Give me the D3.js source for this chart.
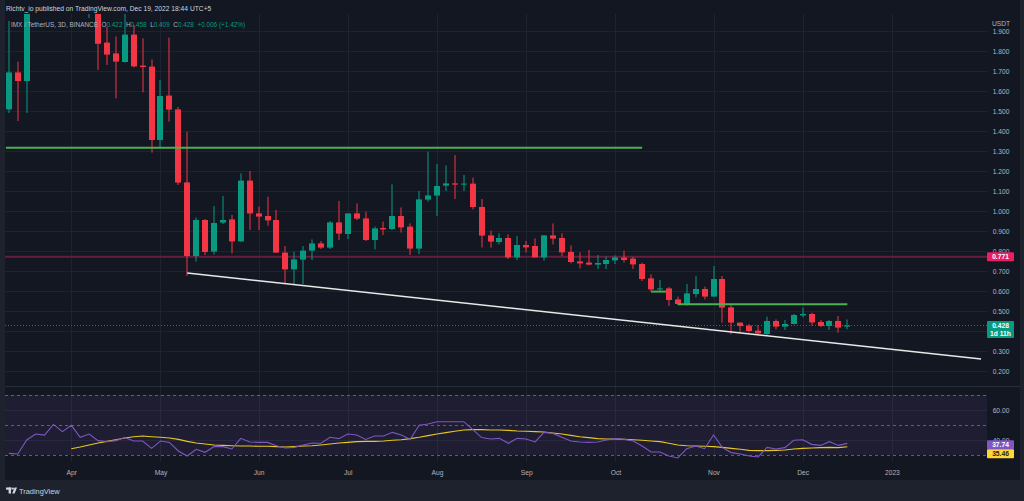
<!DOCTYPE html>
<html><head><meta charset="utf-8">
<script src="https://cdn.jsdelivr.net/npm/d3@7"></script>
<style>
html,body{margin:0;padding:0;background:#1e222d;}
svg{display:block;}
text{font-family:"Liberation Sans",Arial,sans-serif;}
</style>
</head><body>
<svg id="c" width="1024" height="501"></svg>
<script>
// ---- data (IMX/USDT, 3D candles, Binance) ----
const firstCandleDate = "2022-03-11";
const candleStepDays = 3;
const opens  = [1.508,1.693,1.650,2.05,2.20,2.42,2.35,2.18,2.10,2.06,
                2.12,1.842,1.788,1.745,1.882,1.727,1.722,1.355,1.577,1.508,
                1.143,0.775,0.955,0.797,0.942,0.958,0.848,1.152,0.988,0.975,
                0.955,0.792,0.708,0.757,0.802,0.838,0.817,0.943,0.885,0.988,
                0.963,0.855,0.915,0.910,0.975,0.922,0.812,1.057,1.077,1.127,
                1.138,1.135,1.137,1.020,0.878,0.845,0.865,0.768,0.830,0.825,
                0.768,0.878,0.865,0.795,0.748,0.742,0.732,0.735,0.753,0.767,
                0.762,0.735,0.663,0.608,0.613,0.558,0.535,0.585,0.610,0.572,
                0.660,0.518,0.442,0.427,0.402,0.385,0.450,0.422,0.435,0.478,
                0.485,0.445,0.425,0.450,0.422];
const highs  = [1.95,1.747,2.10,2.30,2.50,2.60,2.45,2.30,2.25,2.20,
                2.15,1.92,1.873,1.99,1.93,1.863,1.758,1.655,1.867,1.52,
                1.397,0.967,0.96,1.025,1.075,0.98,1.188,1.20,1.022,1.072,
                1.005,0.825,0.797,0.825,0.858,0.85,0.95,1.05,0.988,1.038,
                0.997,0.922,0.947,1.133,1.018,0.938,1.10,1.297,1.235,1.228,
                1.28,1.18,1.167,1.06,0.902,0.888,0.883,0.875,0.85,0.863,
                0.88,0.938,0.888,0.828,0.793,0.805,0.78,0.772,0.778,0.802,
                0.77,0.742,0.683,0.655,0.62,0.572,0.635,0.675,0.622,0.725,
                0.675,0.53,0.442,0.435,0.43,0.472,0.458,0.455,0.485,0.517,
                0.492,0.455,0.455,0.475,0.458];
const lows   = [1.49,1.45,1.49,2.00,2.10,2.25,2.10,2.02,2.00,1.965,
                1.705,1.73,1.563,1.742,1.718,1.593,1.292,1.313,1.447,1.13,
                0.675,0.747,0.78,0.782,0.935,0.788,0.845,0.905,0.905,0.927,
                0.79,0.635,0.635,0.635,0.755,0.81,0.81,0.855,0.86,0.955,
                0.85,0.808,0.88,0.905,0.892,0.78,0.785,1.047,0.975,1.10,
                1.06,1.10,1.008,0.818,0.817,0.833,0.76,0.755,0.792,0.768,
                0.752,0.833,0.775,0.738,0.713,0.728,0.71,0.71,0.735,0.742,
                0.71,0.65,0.597,0.597,0.525,0.53,0.527,0.568,0.558,0.572,
                0.442,0.383,0.39,0.392,0.385,0.38,0.408,0.405,0.433,0.468,
                0.427,0.42,0.405,0.392,0.409];
const closes = [1.693,1.650,2.05,2.20,2.42,2.35,2.18,2.10,2.06,2.12,
                1.836,1.782,1.747,1.882,1.723,1.720,1.355,1.575,1.507,1.142,
                0.775,0.955,0.795,0.940,0.955,0.848,1.152,0.988,0.972,0.953,
                0.792,0.708,0.758,0.802,0.838,0.817,0.943,0.887,0.988,0.962,
                0.855,0.913,0.908,0.975,0.918,0.812,1.058,1.078,1.125,1.138,
                1.132,1.137,1.020,0.877,0.847,0.865,0.768,0.830,0.818,0.768,
                0.878,0.862,0.793,0.745,0.738,0.732,0.740,0.755,0.768,0.755,
                0.733,0.660,0.608,0.613,0.555,0.535,0.588,0.610,0.572,0.660,
                0.517,0.442,0.425,0.400,0.388,0.450,0.422,0.435,0.480,0.485,
                0.443,0.425,0.450,0.417,0.428];
const rsiValues = [31.1,30.7,40,44,43.3,50.4,45.6,49.8,41.8,44,
                   39.6,38.9,39.6,41.6,39.3,39.3,34.4,39.3,38.4,32.7,
                   29.3,33.8,31.8,35.6,35.6,34,41.1,38.7,38.4,38.4,
                   36.2,34.7,35.1,36.7,38,37.8,41.8,40.9,44,43.3,
                   40.4,42.7,42.7,45.1,43.3,40.4,49.8,50.7,52.2,52.2,
                   52.2,52.2,47.1,41.6,40.7,41.1,37.8,41.1,40.7,38.7,
                   45.1,44.4,41.8,39.3,38.7,38.4,38.7,40,40.9,40.4,
                   39.3,36,32,32,29.3,28,34.2,36,34.2,43.3,
                   34.9,31.6,30.7,29.3,28.7,35.1,34,34.9,39.8,40.2,
                   37.1,36.4,38.9,36.4,37.74];
const rsiMA = [null,null,null,null,null,null,null,34.2,35.3,36.7,
               38,39.1,40.2,41.3,42.2,42.7,42.2,41.8,41.3,40.4,
               39.1,38,37.3,36.7,36.4,36.2,36,36,35.8,35.8,
               35.6,35.3,35.6,36,36.2,36.7,37.3,38,38.4,38.9,
               39.1,39.1,39.3,39.8,40.2,40.9,41.8,42.9,44,44.9,
               45.8,46.7,46.9,46.9,46.7,46.7,46.4,46,45.8,45.6,
               45.3,44.7,44,43.1,42.2,41.6,40.9,40.7,40.7,40.4,
               40.2,39.8,39.3,38.9,37.8,36.7,36.2,36,35.8,35.6,
               35.1,34.4,33.8,33.1,32.9,32.9,33.1,33.3,34,34.4,
               34.7,34.9,35.1,34.9,35.46];
const priceTicks = [0.2,0.3,0.4,0.5,0.6,0.7,0.8,0.9,1.0,1.1,1.2,1.3,1.4,1.5,1.6,1.7,1.8,1.9];
const priceTickLabels = [0.2,0.3,0.5,0.6,0.7,0.8,0.9,1.0,1.1,1.2,1.3,1.4,1.5,1.6,1.7,1.8,1.9];
const rsiTicks = [60,40];
const rsiBands = [70,50,30];
const monthTickDates = ["2022-04-01","2022-05-01","2022-06-03","2022-07-03","2022-08-02","2022-09-01","2022-10-01","2022-11-03","2022-12-03","2023-01-02"];
const monthTickLabels = ["Apr","May","Jun","Jul","Aug","Sep","Oct","Nov","Dec","2023"];
// drawings
const greenLevels = [
  {from:"2022-03-10", to:"2022-10-10", price:1.316},
  {from:"2022-10-13", to:"2022-10-18", price:0.597},
  {from:"2022-10-22", to:"2022-12-18", price:0.5335}
];
const redLevel = 0.771;
const trendLine = [{date:"2022-05-10", price:0.69},{date:"2023-02-01", price:0.26}];
const lastPrice = 0.428;
const lastRsi = 37.74, lastRsiMA = 35.46;

// ---- setup ----
const parse = d3.utcParse("%Y-%m-%d");
const start = parse(firstCandleDate);
const candles = closes.map((c,i)=>({date:d3.utcDay.offset(start, candleStepDays*i), o:opens[i], h:highs[i], l:lows[i], c:c}));

const PL=5, PR=987, FR=1020, PT=14, PB=386, RT=386, RB=462, BOT=480;
const x = d3.scaleUtc().domain([parse("2022-04-01"), parse("2023-01-02")]).range([71.3, 891.9]);
const y = d3.scaleLinear().domain([0,2]).range([411,11]);
const yR = d3.scaleLinear().domain([30,70]).range([455,395]);

const UP="#089981", DOWN="#f23645", GRID="#1f2330", TXT="#b2b5be";
const svg = d3.select("#c");
svg.append("rect").attr("width",1024).attr("height",501).attr("fill","#1e222d");
svg.append("rect").attr("x",PL).attr("y",0).attr("width",FR-PL).attr("height",BOT).attr("fill","#131722");

const defs = svg.append("defs");
defs.append("clipPath").attr("id","main").append("rect").attr("x",PL).attr("y",PT).attr("width",PR-PL).attr("height",PB-PT);
defs.append("clipPath").attr("id","rsi").append("rect").attr("x",PL).attr("y",RT).attr("width",PR-PL).attr("height",RB-RT);

const cr = v => Math.round(v)+0.5;

// grid
const grid = svg.append("g");
grid.selectAll(".hg").data(priceTicks).join("line")
  .attr("x1",PL).attr("x2",PR).attr("y1",d=>cr(y(d))).attr("y2",d=>cr(y(d)))
  .attr("stroke",GRID).attr("stroke-width",1);
grid.selectAll(".vg").data(monthTickDates.map(parse)).join("line")
  .attr("x1",d=>cr(x(d))).attr("x2",d=>cr(x(d))).attr("y1",PT).attr("y2",RB)
  .attr("stroke",GRID).attr("stroke-width",1);
grid.selectAll(".rg").data(rsiTicks).join("line")
  .attr("x1",PL).attr("x2",PR).attr("y1",d=>cr(yR(d))).attr("y2",d=>cr(yR(d)))
  .attr("stroke",GRID).attr("stroke-width",1);

// pane separator
svg.append("line").attr("x1",PL).attr("x2",FR).attr("y1",cr(RT)).attr("y2",cr(RT)).attr("stroke","#2a2e39");

// ---- main pane ----
const main = svg.append("g").attr("clip-path","url(#main)");

// red horizontal level
main.append("line").attr("x1",PL).attr("x2",PR).attr("y1",y(redLevel)).attr("y2",y(redLevel))
  .attr("stroke","#651f3d").attr("stroke-width",2);

// last price dotted line
main.append("line").attr("x1",PL).attr("x2",PR).attr("y1",cr(y(lastPrice))).attr("y2",cr(y(lastPrice)))
  .attr("stroke",UP).attr("stroke-opacity",0.8).attr("stroke-width",1).attr("stroke-dasharray","1,2");

// candles
const cg = main.append("g");
candles.forEach(d=>{
  const cx = Math.round(x(d.date));
  const col = d.c >= d.o ? UP : DOWN;
  cg.append("rect").attr("x",cx-0.5).attr("width",1)
    .attr("y",y(d.h)).attr("height",Math.max(1,y(d.l)-y(d.h))).attr("fill",col);
  const top = y(Math.max(d.o,d.c)), bot = y(Math.min(d.o,d.c));
  cg.append("rect").attr("x",cx-3).attr("width",6)
    .attr("y",top).attr("height",Math.max(1,bot-top)).attr("fill",col);
});

// green levels
main.selectAll(".gl").data(greenLevels).join("line")
  .attr("x1",d=>x(parse(d.from))).attr("x2",d=>x(parse(d.to)))
  .attr("y1",d=>y(d.price)).attr("y2",d=>y(d.price))
  .attr("stroke","#4caf50").attr("stroke-width",2);

// trend line
main.append("line")
  .attr("x1",x(parse(trendLine[0].date))).attr("y1",y(trendLine[0].price))
  .attr("x2",x(parse(trendLine[1].date))).attr("y2",y(trendLine[1].price))
  .attr("stroke","#e8e8e8").attr("stroke-width",1.6);

// ---- RSI pane ----
const rsiG = svg.append("g").attr("clip-path","url(#rsi)");
rsiG.append("rect").attr("x",PL).attr("width",PR-PL).attr("y",yR(70)).attr("height",yR(30)-yR(70))
  .attr("fill","#7e57c2").attr("fill-opacity",0.1);
rsiG.selectAll(".band").data(rsiBands).join("line")
  .attr("x1",PL).attr("x2",PR).attr("y1",d=>cr(yR(d))).attr("y2",d=>cr(yR(d)))
  .attr("stroke","#787b86").attr("stroke-opacity",0.75).attr("stroke-dasharray","3,3");
const rsiLine = d3.line().defined(d=>d[1]!=null).x(d=>x(d[0])).y(d=>yR(d[1]));
rsiG.append("path").attr("d",rsiLine(candles.map((c,i)=>[c.date,rsiMA[i]])))
  .attr("fill","none").attr("stroke","#e8c81e").attr("stroke-width",1.1);
rsiG.append("path").attr("d",rsiLine(candles.map((c,i)=>[c.date,rsiValues[i]])))
  .attr("fill","none").attr("stroke","#7e57c2").attr("stroke-width",1.1);

// ---- axes ----
const fs = "6.7px";
const ay = svg.append("g").attr("transform",`translate(${PR},0)`)
  .call(d3.axisRight(y).tickValues(priceTickLabels).tickSize(0).tickPadding(14).tickFormat(d3.format(".3f")));
ay.select(".domain").remove();
ay.selectAll("text").attr("fill",TXT).style("font-size",fs).attr("text-anchor","middle");

const ar = svg.append("g").attr("transform",`translate(${PR},0)`)
  .call(d3.axisRight(yR).tickValues(rsiTicks).tickSize(0).tickPadding(14).tickFormat(d3.format(".2f")));
ar.select(".domain").remove();
ar.selectAll("text").attr("fill",TXT).style("font-size",fs).attr("text-anchor","middle");

const ax = svg.append("g").attr("transform",`translate(0,${RB})`)
  .call(d3.axisBottom(x).tickValues(monthTickDates.map(parse)).tickSize(0).tickPadding(8.5)
    .tickFormat((d,i)=>monthTickLabels[i]));
ax.select(".domain").remove();
ax.selectAll("text").attr("fill",TXT).style("font-size",fs);

// USDT header on the price scale
svg.append("rect").attr("x",PR+1).attr("y",14).attr("width",FR-PR-2).attr("height",14).attr("fill","#131722");
svg.append("text").attr("x",1001).attr("y",25.5).attr("text-anchor","middle").attr("fill",TXT)
  .style("font-size",fs).text("USDT");

// price labels on the scale
function tag(yc, h, fill, lines, txtCol){
  svg.append("rect").attr("x",PR).attr("y",yc-h/2).attr("width",27).attr("height",h).attr("fill",fill).attr("rx",1);
  lines.forEach((t,k)=>{
    svg.append("text").attr("x",PR+13.5).attr("y",yc - (lines.length-1)*4 + k*8 + 2.4)
      .attr("text-anchor","middle").attr("fill",txtCol).style("font-size",fs).style("font-weight","bold").text(t);
  });
}
tag(y(redLevel), 9, "#e91e63", [d3.format(".3f")(redLevel)], "#ffffff");
tag(y(lastPrice)+4, 17, UP, [d3.format(".3f")(lastPrice), "1d 11h"], "#ffffff");
tag(yR(lastRsi)+1.3, 9, "#7e57c2", [d3.format(".2f")(lastRsi)], "#ffffff");
tag(yR(lastRsi)+10.3, 9, "#fdd835", [d3.format(".2f")(lastRsiMA)], "#222222");

// ---- header texts ----
svg.append("text").attr("x",6).attr("y",10.5).attr("fill","#d1d4dc").style("font-size",fs)
  .text("Richtv_io published on TradingView.com, Dec 19, 2022 18:44 UTC+5");
const lg = svg.append("text").attr("x",11).attr("y",26.5).style("font-size","6.4px").attr("xml:space","preserve");
const parts = [["IMX / TetherUS, 3D, BINANCE  ",TXT],["O",TXT],["0.422",UP],["  H",TXT],["0.458",UP],["  L",TXT],["0.409",UP],["  C",TXT],["0.428",UP],["  +0.006 (+1.42%)",UP]];
parts.forEach(p=>lg.append("tspan").attr("fill",p[1]).text(p[0]));

// footer logo
const logo = svg.append("g").attr("fill","#d1d4dc");
logo.append("rect").attr("x",6).attr("y",487.5).attr("width",5.5).attr("height",2.2);
logo.append("rect").attr("x",8.6).attr("y",487.5).attr("width",2.4).attr("height",6);
logo.append("circle").attr("cx",12.9).attr("cy",488.6).attr("r",1.1);
logo.append("path").attr("d","M14.6,487.5 L17,487.5 L14.6,493.5 L12.2,493.5 Z");
svg.append("text").attr("x",19).attr("y",494).attr("fill","#d1d4dc").style("font-size","7.4px").text("TradingView");
</script>
</body></html>
